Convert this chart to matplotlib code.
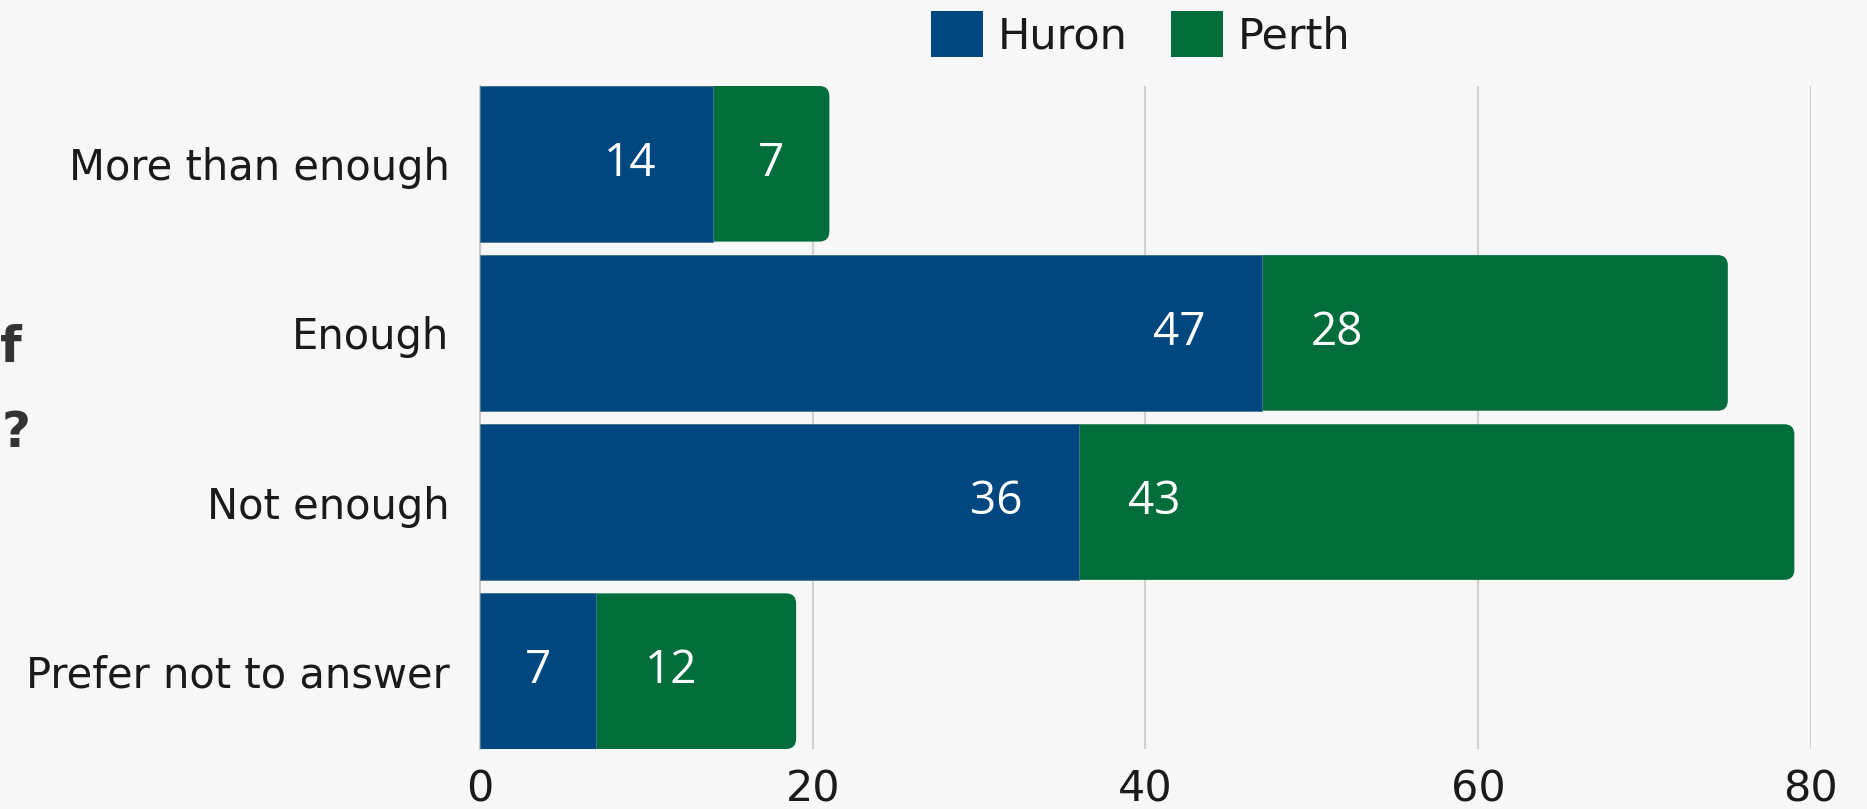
import matplotlib
matplotlib.use("Agg")
import matplotlib.pyplot as plt
from matplotlib.patches import FancyBboxPatch, Patch

# data
categories = ["More than enough", "Enough", "Not enough", "Prefer not to answer"]
huron = [14, 47, 36, 7]
perth = [7, 28, 43, 12]
series_names = ["Huron", "Perth"]
x_ticks = [0, 20, 40, 60, 80]

HURON_COLOR = "#00467f"
PERTH_COLOR = "#006d3b"
BG = "#f7f7f7"
TEXT = "#1a1a1a"

plt.rcParams["font.family"] = ["DejaVu Sans"]

fig = plt.figure(figsize=(18.67, 8.09), dpi=100, facecolor=BG)
ax = fig.add_axes([0.2571, 0.0742, 0.7129, 0.8195], facecolor=BG)

y = list(range(len(categories)))
bar_h = 0.92

# Perth drawn as full stacked length with rounded right end, Huron laid on top
totals = [h + p for h, p in zip(huron, perth)]
perth_bars = ax.barh(y, totals, height=bar_h, color=PERTH_COLOR, zorder=2)
for b in perth_bars:
    b.set_visible(False)
    rb = FancyBboxPatch((b.get_x(), b.get_y()), b.get_width(), b.get_height(),
                        boxstyle="round,pad=0,rounding_size=0.6",
                        mutation_aspect=0.1, facecolor=PERTH_COLOR,
                        edgecolor="none", zorder=2)
    ax.add_patch(rb)
ax.barh(y, huron, height=bar_h, color=HURON_COLOR, edgecolor="#4a7a8c",
        linewidth=0.6, zorder=3)

# value labels
for i, (h, p) in enumerate(zip(huron, perth)):
    hx = max(h / 2, h - 5)
    px = h + min(p / 2, 4.5)
    ax.text(hx, i, str(h), color="white", fontsize=33, family="Open Sans",
            ha="center", va="center", zorder=4)
    ax.text(px, i, str(p), color="white", fontsize=33, family="Open Sans",
            ha="center", va="center", zorder=4)

ax.set_xlim(0, 80)
ax.set_ylim(len(categories) - 1 + bar_h / 2, -bar_h / 2)
ax.set_yticks(y)
ax.set_yticklabels(categories, fontsize=30, color=TEXT)
ax.set_xticks(x_ticks)
ax.set_xticklabels([str(t) for t in x_ticks], fontsize=31, color=TEXT)
ax.tick_params(axis="both", length=0)
ax.tick_params(axis="y", pad=22)
ax.tick_params(axis="x", pad=14)

ax.grid(axis="x", color="#d0d0d0", linewidth=1.5, zorder=0)
ax.set_axisbelow(True)
for s in ["top", "right", "bottom"]:
    ax.spines[s].set_visible(False)
ax.spines["left"].set_color("#c8c8c8")
ax.spines["left"].set_linewidth(1.5)

handles = [Patch(facecolor=HURON_COLOR), Patch(facecolor=PERTH_COLOR)]
fig.legend(handles, series_names, loc="upper center", bbox_to_anchor=(0.611, 1.034),
           ncol=2, frameon=False, fontsize=31, handlelength=1.2, handleheight=1.25,
           handletextpad=0.35, columnspacing=1.0, labelcolor=TEXT)

# title mostly cut off at the left edge
fig.text(0.0, 0.57, "f", fontsize=36, fontweight="bold", color="#333333",
         ha="left", va="center")
fig.text(0.001, 0.465, "?", fontsize=36, fontweight="bold", color="#333333",
         ha="left", va="center")

fig.savefig("out.png", dpi=100, facecolor=BG)
